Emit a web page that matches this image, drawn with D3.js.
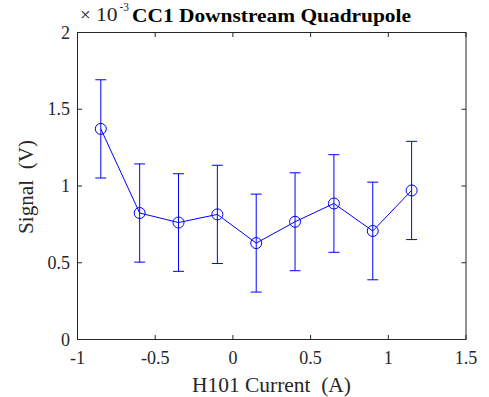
<!DOCTYPE html>
<html><head><meta charset="utf-8">
<script src="https://cdn.jsdelivr.net/npm/d3@7"></script>
<style>body{margin:0;background:#fff}svg{display:block}text{font-family:"Liberation Serif","Times New Roman",serif;white-space:pre}</style>
</head><body>
<svg id="c" width="489" height="397"></svg>
<script>
const xValues = [-0.85, -0.6, -0.35, -0.1, 0.15, 0.4, 0.65, 0.9, 1.15];
const yValues = [1.372e-3, 0.824e-3, 0.762e-3, 0.815e-3, 0.628e-3, 0.767e-3, 0.886e-3, 0.707e-3, 0.971e-3];
const yErrors = [0.32e-3, 0.32e-3, 0.318e-3, 0.32e-3, 0.319e-3, 0.319e-3, 0.318e-3, 0.318e-3, 0.32e-3];
const xTicks = [-1, -0.5, 0, 0.5, 1, 1.5];
const yTicks = [0, 0.5e-3, 1e-3, 1.5e-3, 2e-3];
const yTickLabels = ["0", "0.5", "1", "1.5", "2"];
const xTickLabels = ["-1", "-0.5", "0", "0.5", "1", "1.5"];

const svg = d3.select("#c");
const L = 77.5, R = 466, T = 32.5, B = 339.5;
const x = d3.scaleLinear().domain([-1, 1.5]).range([L, R]);
const y = d3.scaleLinear().domain([0, 2e-3]).range([B, T]);
const blue = "#0000ff";
const tl = 4.5;

svg.append("rect").attr("x", L).attr("y", T).attr("width", R - L).attr("height", B - T)
  .attr("fill", "none").attr("stroke", "#262626").attr("stroke-width", 1);

const ax = svg.append("g").attr("stroke", "#262626").attr("stroke-width", 1);
xTicks.forEach(v => {
  ax.append("line").attr("x1", x(v)).attr("x2", x(v)).attr("y1", B).attr("y2", B - tl);
  ax.append("line").attr("x1", x(v)).attr("x2", x(v)).attr("y1", T).attr("y2", T + tl);
});
yTicks.forEach(v => {
  ax.append("line").attr("x1", L).attr("x2", L + tl).attr("y1", y(v)).attr("y2", y(v));
  ax.append("line").attr("x1", R).attr("x2", R - tl).attr("y1", y(v)).attr("y2", y(v));
});

svg.append("g").selectAll("text").data(xTicks).join("text")
  .attr("x", d => x(d)).attr("y", 364).attr("text-anchor", "middle")
  .attr("font-size", 18).attr("fill", "#262626").text((d, i) => xTickLabels[i]);
svg.append("g").selectAll("text").data(yTicks).join("text")
  .attr("x", 70).attr("y", d => y(d) + 6).attr("text-anchor", "end")
  .attr("font-size", 18).attr("fill", "#262626").text((d, i) => yTickLabels[i]);

// exponent
svg.append("text").attr("x", 80).attr("y", 21).attr("font-size", 19).attr("fill", "#262626").text("\u00d7");
svg.append("text").attr("x", 96).attr("y", 21).attr("font-size", 19).attr("fill", "#262626")
  .attr("textLength", 21.5).attr("lengthAdjust", "spacingAndGlyphs").text("10");
svg.append("text").attr("x", 119.5).attr("y", 10.5).attr("font-size", 13).attr("fill", "#262626")
  .attr("textLength", 9.5).attr("lengthAdjust", "spacingAndGlyphs").text("-3");

// title
svg.append("text").attr("x", 132).attr("y", 22)
  .attr("font-size", 19.5).attr("font-weight", "bold").attr("fill", "#000")
  .attr("textLength", 279).attr("lengthAdjust", "spacingAndGlyphs").text("CC1 Downstream Quadrupole");

// axis labels
svg.append("text").attr("x", 192).attr("y", 391.5)
  .attr("font-size", 20).attr("fill", "#262626")
  .attr("textLength", 159).attr("lengthAdjust", "spacingAndGlyphs").text("H101 Current  (A)");
svg.append("text").attr("transform", "translate(32.5,234) rotate(-90)")
  .attr("font-size", 20).attr("fill", "#262626")
  .attr("textLength", 94).attr("lengthAdjust", "spacingAndGlyphs").text("Signal  (V)");

// data
const data = xValues.map((v, i) => ({x: v, y: yValues[i], e: yErrors[i]}));
const g = svg.append("g").attr("stroke", blue).attr("fill", "none").attr("stroke-width", 1);
data.forEach(d => {
  g.append("line").attr("x1", x(d.x)).attr("x2", x(d.x)).attr("y1", y(d.y - d.e)).attr("y2", y(d.y + d.e));
  g.append("line").attr("x1", x(d.x) - 5.5).attr("x2", x(d.x) + 5.5).attr("y1", y(d.y - d.e)).attr("y2", y(d.y - d.e));
  g.append("line").attr("x1", x(d.x) - 5.5).attr("x2", x(d.x) + 5.5).attr("y1", y(d.y + d.e)).attr("y2", y(d.y + d.e));
});
g.append("path").attr("d", d3.line().x(d => x(d.x)).y(d => y(d.y))(data));
g.selectAll("circle").data(data).join("circle")
  .attr("cx", d => x(d.x)).attr("cy", d => y(d.y)).attr("r", 5.5);
</script>
</body></html>
